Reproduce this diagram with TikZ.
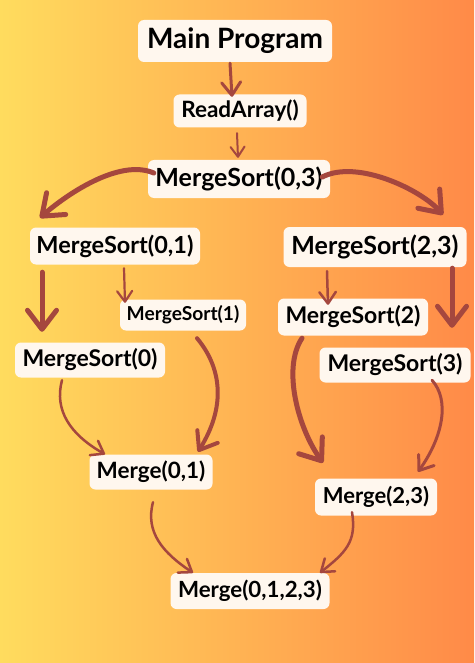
\documentclass[tikz,border=0pt]{standalone}
\usepackage{fontspec}
\setmainfont{Lato}
\usetikzlibrary{arrows.meta}
\definecolor{bgleft}{HTML}{FFDC5E}
\definecolor{bgmid}{HTML}{FFB14A}
\definecolor{bgright}{HTML}{FF8A48}
\definecolor{boxfill}{HTML}{FFF7EE}
\definecolor{arrowred}{HTML}{A5473E}
\newcommand{\fsz}[1]{\fontsize{#1}{#1}\selectfont\bfseries}
\begin{document}
\begin{tikzpicture}[x=1pt,y=-1pt,
    box/.style={fill=boxfill,rounded corners=6pt,inner sep=0pt,text=black},
    flow/.style={draw=arrowred,line width=#1,line cap=round,
        -{Straight Barb[length=4pt 3,width=4pt 5,round]}},
    flow/.default=3pt]
    \fill[left color=bgleft,middle color=bgmid,right color=bgright] (0,0) rectangle (474,663);
    % boxes
    \node[box,minimum width=194pt,minimum height=42pt,font=\fsz{28}] (main) at (235,41) {Main Program};
    \node[box,minimum width=133pt,minimum height=33pt,font=\fsz{22.5}] (read) at (240,111) {ReadArray()};
    \node[box,minimum width=182pt,minimum height=38pt,font=\fsz{25}] (ms03) at (239,179) {MergeSort(0,3)};
    \node[box,minimum width=170pt,minimum height=37pt,font=\fsz{23.5}] (ms01) at (115,246) {MergeSort(0,1)};
    \node[box,minimum width=183pt,minimum height=40pt,font=\fsz{25}] (ms23) at (375,247) {MergeSort(2,3)};
    \node[box,minimum width=126pt,minimum height=31pt,font=\fsz{19.2}] (ms1) at (183,315) {MergeSort(1)};
    \node[box,minimum width=150pt,minimum height=37pt,font=\fsz{23}] (ms2) at (353,317) {MergeSort(2)};
    \node[box,minimum width=150pt,minimum height=35pt,font=\fsz{23}] (ms0) at (90,360) {MergeSort(0)};
    \node[box,minimum width=151pt,minimum height=35pt,font=\fsz{23}] (ms3) at (395,365) {MergeSort(3)};
    \node[box,minimum width=123pt,minimum height=35pt,font=\fsz{22.5}] (m01) at (151,472) {Merge(0,1)};
    \node[box,minimum width=122pt,minimum height=37pt,font=\fsz{22}] (m23) at (376,497) {Merge(2,3)};
    \node[box,minimum width=159pt,minimum height=36pt,font=\fsz{22.3}] (m0123) at (250,591) {Merge(0,1,2,3)};
    % arrows
    \draw[flow=3pt] ([xshift=-5pt,yshift=-1pt]main.south) -- ([xshift=-8pt,yshift=-2.5pt]read.north);
    \draw[flow=2pt] ([xshift=-3pt,yshift=-5.5pt]read.south) -- ([xshift=-1pt,yshift=2pt]ms03.north);
    \draw[flow=5pt] ([xshift=6pt,yshift=6pt]ms03.west) .. controls +(-35,-15) and +(25,-22) .. ([xshift=-75pt,yshift=9.5pt]ms01.north);
    \draw[flow=5pt] ([xshift=-8pt,yshift=2pt]ms03.east) .. controls +(35,-18) and +(-22,-25) .. ([xshift=68pt,yshift=12pt]ms23.north);
    \draw[flow=5pt] ([xshift=-73pt,yshift=-7.5pt]ms01.south) -- ([xshift=-48pt,yshift=10.5pt]ms0.north);
    \draw[flow=2.2pt] ([xshift=9pt,yshift=-3.5pt]ms01.south) -- ([xshift=-58pt,yshift=-3.5pt]ms1.north);
    \draw[flow=2.5pt] ([xshift=-48pt,yshift=-4pt]ms23.south) -- ([xshift=-25pt,yshift=-6.5pt]ms2.north);
    \draw[flow=5pt] ([xshift=77pt,yshift=-1pt]ms23.south) -- ([xshift=57pt,yshift=19.5pt]ms3.north);
    \draw[flow=4pt] ([xshift=14pt,yshift=-7.5pt]ms1.south) .. controls +(25,30) and +(28,-45) .. ([xshift=47pt,yshift=2.5pt]m01.north);
    \draw[flow=2.5pt] ([xshift=-28pt,yshift=-2.5pt]ms0.south) .. controls +(-8,30) and +(-35,-20) .. ([xshift=-46pt]m01.north);
    \draw[flow=5pt] ([xshift=-51pt,yshift=-2.5pt]ms2.south) .. controls +(-20,30) and +(-25,-35) .. ([xshift=-53pt,yshift=15.5pt]m23.north);
    \draw[flow=3pt] ([xshift=37pt,yshift=2.5pt]ms3.south) .. controls +(18,20) and +(25,-35) .. ([xshift=42pt,yshift=6.5pt]m23.north);
    \draw[flow=2.5pt] ([xshift=2pt,yshift=-12.5pt]m01.south) .. controls +(-8,30) and +(-30,-20) .. ([xshift=-57pt]m0123.north);
    \draw[flow=2.5pt] ([xshift=-24pt,yshift=3.5pt]m23.south) .. controls +(5,30) and +(25,-20) .. ([xshift=70pt]m0123.north);
\end{tikzpicture}
\end{document}
